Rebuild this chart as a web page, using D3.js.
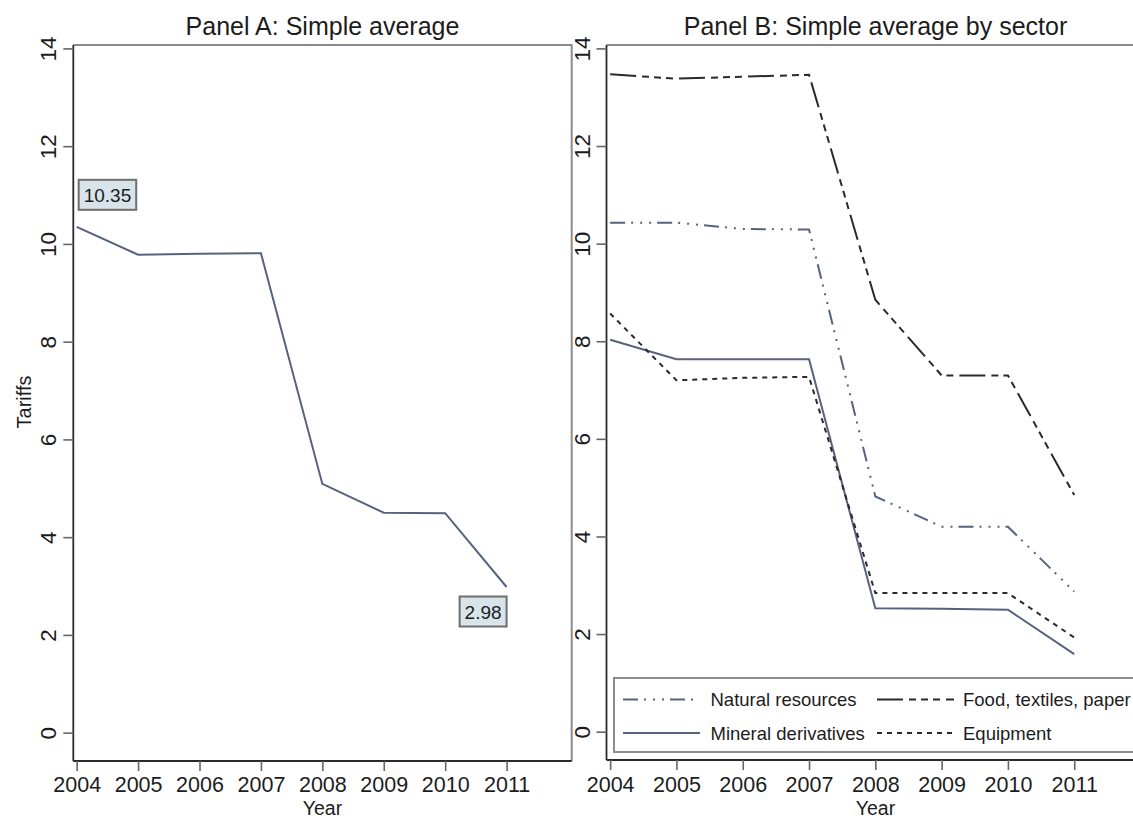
<!DOCTYPE html>
<html>
<head>
<meta charset="utf-8">
<script src="https://cdn.jsdelivr.net/npm/d3@7"></script>
<style>
  html, body { margin: 0; padding: 0; background: #fff; }
  svg { display: block; }
  text { font-family: "Liberation Sans", Arial, Helvetica, sans-serif; fill: #1c1c1c; }
</style>
</head>
<body>
<svg id="chart" width="1133" height="819"></svg>
<script>
// ---- data ----
const years = [2004, 2005, 2006, 2007, 2008, 2009, 2010, 2011];
const yTicks = [0, 2, 4, 6, 8, 10, 12, 14];

// Panel A: overall simple average tariff
const simpleAverage = [10.35, 9.78, 9.80, 9.81, 5.09, 4.50, 4.49, 2.98];

// Panel B: simple average by sector
const naturalResources   = [10.43, 10.43, 10.30, 10.29, 4.82, 4.20, 4.20, 2.87];
const foodTextilesPaper  = [13.47, 13.38, 13.42, 13.46, 8.85, 7.30, 7.30, 4.85];
const mineralDerivatives = [8.03, 7.63, 7.63, 7.63, 2.53, 2.52, 2.50, 1.59];
const equipment          = [8.57, 7.20, 7.25, 7.27, 2.84, 2.84, 2.84, 1.93];

const sectorNames = ["Natural resources", "Food, textiles, paper", "Mineral derivatives", "Equipment"];

// ---- styling ----
const BLUE = "#56627f";
const DARK = "#2a2a2a";
const sectorStyles = [
  { values: naturalResources,   color: BLUE, dash: "15,6,2,7,2,7,2,6" },
  { values: foodTextilesPaper,  color: DARK, dash: "26,6,7,5,7,5,7,6" },
  { values: mineralDerivatives, color: BLUE, dash: null },
  { values: equipment,          color: DARK, dash: "5,5" }
];

const svg = d3.select("#chart");
const xDomain = [2003.945, 2012.06];
const yDomain = [-0.58, 14.07];

function drawPanel(box, title) {
  const g = svg.append("g");
  const x = d3.scaleLinear().domain(xDomain).range([box.left, box.right]);
  const y = d3.scaleLinear().domain(yDomain).range([box.bottom, box.top]);

  // frame: grey top/right, dark axes on left/bottom
  g.append("path")
    .attr("d", `M${box.left},${box.top}H${box.right}V${box.bottom}`)
    .attr("fill", "none").attr("stroke", "#8c8c8c").attr("stroke-width", 2);

  const yAxis = g.append("g")
    .attr("transform", `translate(${box.left},0)`)
    .call(d3.axisLeft(y).tickValues(yTicks).tickSize(10).tickSizeOuter(0));
  yAxis.select(".domain").attr("stroke", DARK).attr("stroke-width", 1.8)
    .attr("d", `M0,${box.top}V${box.bottom}`);
  yAxis.selectAll(".tick line").attr("stroke", "#666").attr("stroke-width", 1.6);
  yAxis.selectAll(".tick text")
    .attr("x", null).attr("dy", null).attr("y", null)
    .attr("text-anchor", "middle")
    .attr("transform", "translate(-17,0) rotate(-90)")
    .style("font-size", "22.5px").style("font-family", null);

  const xAxis = g.append("g")
    .attr("transform", `translate(0,${box.bottom})`)
    .call(d3.axisBottom(x).tickValues(years).tickFormat(d3.format("d")).tickSize(10).tickSizeOuter(0));
  xAxis.select(".domain").attr("stroke", DARK).attr("stroke-width", 1.8)
    .attr("d", `M${box.left},0H${box.right}`);
  xAxis.selectAll(".tick line").attr("stroke", "#666").attr("stroke-width", 1.6);
  xAxis.selectAll(".tick text")
    .attr("dy", null).attr("y", 792 - box.bottom)
    .style("font-size", "21.5px").style("font-family", null);

  svg.selectAll(".tick text").attr("fill", "#1c1c1c");

  const cx = (box.left + box.right) / 2;
  g.append("text").attr("x", cx).attr("y", 35).attr("text-anchor", "middle")
    .style("font-size", "25px").text(title);
  g.append("text").attr("x", cx).attr("y", 814.5).attr("text-anchor", "middle")
    .style("font-size", "19.5px").text("Year");

  return { g, x, y };
}

const line = (x, y) => d3.line().x((d, i) => x(years[i])).y(d => y(d));

// ---- Panel A ----
const A = drawPanel({ left: 73.3, right: 571.7, top: 45, bottom: 761 }, "Panel A: Simple average");
svg.append("text")
  .attr("transform", "translate(31,402) rotate(-90)")
  .attr("text-anchor", "middle")
  .style("font-size", "20px").text("Tariffs");

A.g.append("path").datum(simpleAverage)
  .attr("d", line(A.x, A.y))
  .attr("fill", "none").attr("stroke", BLUE).attr("stroke-width", 2);

// value labels on first and last observation
function valueBox(i, placement) {
  const v = simpleAverage[i];
  const px = A.x(years[i]), py = A.y(v);
  const lg = A.g.append("g");
  const rect = lg.append("rect").attr("fill", "#d8e3ea").attr("stroke", "#6e6e6e").attr("stroke-width", 2);
  const t = lg.append("text").attr("text-anchor", "middle").style("font-size", "19px").text(d3.format(".2f")(v));
  const w = t.node().getComputedTextLength() + 10;
  const h = 30;
  let bx, by;
  if (placement === "above") { bx = px + 2; by = py - 47; }
  else { bx = px - w; by = py + 9.5; }
  rect.attr("x", bx).attr("y", by).attr("width", w).attr("height", h);
  t.attr("x", bx + w / 2).attr("y", by + 22);
}
valueBox(0, "above");
valueBox(years.length - 1, "below");

// ---- Panel B ----
const B = drawPanel({ left: 606.5, right: 1144.5, top: 45, bottom: 760 }, "Panel B: Simple average by sector");
sectorStyles.forEach(s => {
  B.g.append("path").datum(s.values)
    .attr("d", line(B.x, B.y))
    .attr("fill", "none").attr("stroke", s.color).attr("stroke-width", 2)
    .attr("stroke-dasharray", s.dash);
});

// legend
const leg = B.g.append("g");
leg.append("rect").attr("x", 614).attr("y", 678).attr("width", 540).attr("height", 74)
  .attr("fill", "#fff").attr("stroke", "#8c8c8c").attr("stroke-width", 2);
const legPos = [
  { lx: 623, tx: 710.5, y: 699.5 },
  { lx: 877, tx: 963,   y: 699.5 },
  { lx: 623, tx: 710.5, y: 733 },
  { lx: 877, tx: 963,   y: 733 }
];
sectorStyles.forEach((s, i) => {
  const p = legPos[i];
  leg.append("line").attr("x1", p.lx).attr("x2", p.lx + 77).attr("y1", p.y).attr("y2", p.y)
    .attr("stroke", s.color).attr("stroke-width", 2).attr("stroke-dasharray", s.dash);
  leg.append("text").attr("x", p.tx).attr("y", p.y + 6.5)
    .style("font-size", "18.5px").text(sectorNames[i]);
});
</script>
</body>
</html>
